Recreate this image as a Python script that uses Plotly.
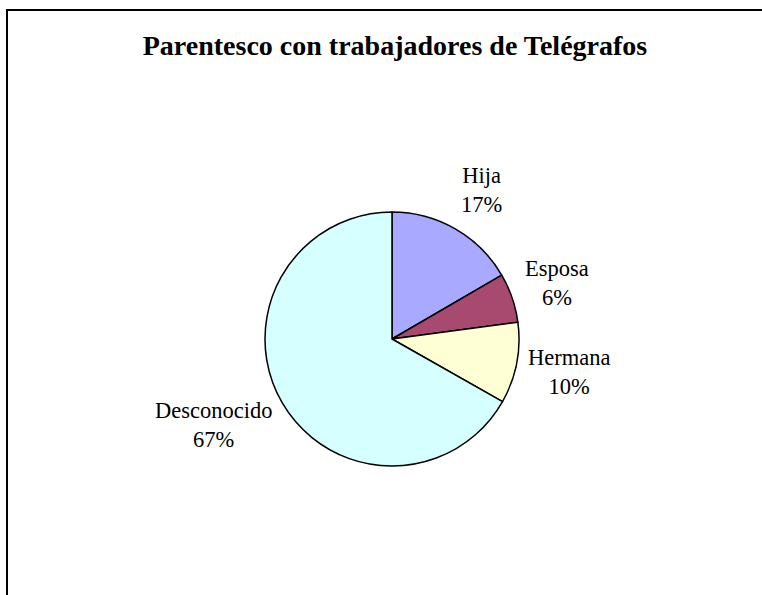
import math
import plotly.graph_objects as go

labels = ["Hija", "Esposa", "Hermana", "Desconocido"]
values = [16.6, 6.3, 10.3, 66.8]
colors = ["#A9AAFF", "#A8496F", "#FFFFD6", "#D6FFFF"]

W, H = 762, 595
CX, CY, R = 392, 339, 127
FS = 22.5


def text_em(t):
    em = 0.0
    for ch in t:
        if ch == "%":
            em += 0.83
        elif ch.isdigit():
            em += 0.5
        elif ch.isupper():
            em += 0.72
        elif ch in "ijlrtf":
            em += 0.3
        elif ch in "mw":
            em += 0.75
        else:
            em += 0.47
    return em


fig = go.Figure(go.Pie(
    labels=labels,
    values=values,
    sort=False,
    direction="clockwise",
    rotation=0,
    marker=dict(colors=colors, line=dict(color="black", width=1.5)),
    textinfo="none",
    showlegend=False,
    domain=dict(x=[(CX - R) / W, (CX + R) / W], y=[1 - (CY + R) / H, 1 - (CY - R) / H]),
    hoverinfo="skip",
))

# outside labels placed next to each slice's mid angle point
total = sum(values)
annotations = []
cum = 0.0
for lab, v in zip(labels, values):
    mid = (cum + v / 2) / total * 2 * math.pi
    cum += v
    s, c = math.sin(mid), math.cos(mid)
    pct = f"{round(v / total * 100)}%"
    w = FS * max(text_em(lab), text_em(pct))
    h = 2 * 1.27 * FS
    d = R + 11
    px = CX + d * s + math.copysign(w / 2, s)
    py = CY - d * c - c * (h / 2 + 5)
    annotations.append(dict(
        x=px / W, y=1 - py / H, xref="paper", yref="paper",
        text=f"{lab}<br>{pct}", showarrow=False,
        xanchor="center", yanchor="middle",
        font=dict(family="Liberation Serif", size=FS, color="black"),
    ))

fig.update_layout(
    width=W, height=H,
    margin=dict(l=0, r=0, t=0, b=0),
    paper_bgcolor="white",
    plot_bgcolor="white",
    title=dict(text="<b>Parentesco con trabajadores de Telégrafos</b>",
               x=395 / W, xanchor="center", y=1 - 45 / H, yanchor="middle",
               font=dict(family="Liberation Serif", size=28, color="black")),
    annotations=annotations,
    shapes=[dict(type="rect", xref="paper", yref="paper",
                 x0=7 / W, x1=1.2, y0=-0.2, y1=1 - 10 / H,
                 line=dict(color="black", width=2))],
)

fig.write_html("out.html", config={"displayModeBar": False},
               post_script="document.body.style.margin='0';")
